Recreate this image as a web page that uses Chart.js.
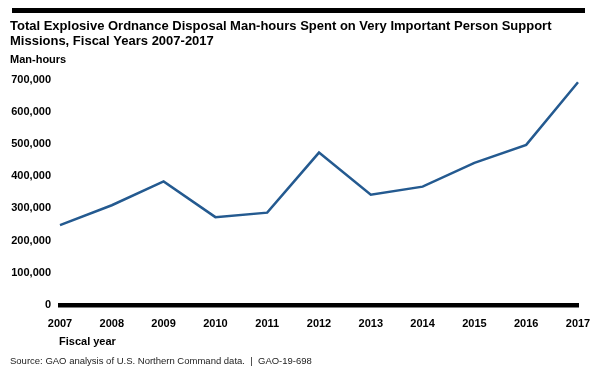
<!DOCTYPE html>
<html>
<head>
<meta charset="utf-8">
<script src="https://cdn.jsdelivr.net/npm/chart.js@4"></script>
<style>
  body { margin: 0; background: #fff; }
</style>
</head>
<body>
<canvas id="c" width="600" height="371"></canvas>
<script>
const years = ['2007','2008','2009','2010','2011','2012','2013','2014','2015','2016','2017']
const manHours = [248000, 310000, 384000, 273000, 287000, 474000, 343000, 368000, 442000, 498000, 693000]
const titleLines = ['Total Explosive Ordnance Disposal Man-hours Spent on Very Important Person Support', 'Missions, Fiscal Years 2007-2017']
const yTitle = 'Man-hours'
const xTitle = 'Fiscal year'
const source = 'Source: GAO analysis of U.S. Northern Command data.  |  GAO-19-698'

const font = 'Liberation Sans, Arial, sans-serif'

// texts and the top rule, drawn on the canvas
const extras = {
  id: 'extras',
  afterDraw(chart) {
    const ctx = chart.ctx
    ctx.save()
    ctx.fillStyle = '#000'
    ctx.fillRect(12, 8, 573, 5)
    ctx.textBaseline = 'middle'
    ctx.textAlign = 'left'
    ctx.font = 'bold 13px ' + font
    ctx.fillText(titleLines[0], 10, 26)
    ctx.fillText(titleLines[1], 10, 41)
    ctx.font = 'bold 11px ' + font
    ctx.fillText(yTitle, 10, 60)
    ctx.fillText(xTitle, 59, 342)
    ctx.font = '9.5px ' + font
    ctx.fillStyle = '#222'
    ctx.fillText(source, 10, 361)
    ctx.restore()
  }
}

new Chart(document.getElementById('c'), {
  type: 'line',
  data: {
    labels: years,
    datasets: [{
      data: manHours,
      borderColor: '#245a90',
      borderWidth: 2.5,
      pointRadius: 0,
      tension: 0
    }]
  },
  options: {
    responsive: false,
    animation: false,
    layout: { padding: { top: 80, right: 22, bottom: 35, left: 10 } },
    scales: {
      x: {
        offset: false,
        grid: { display: false },
        border: { display: true, color: '#000', width: 4.5 },
        ticks: { color: '#000', font: { family: font, size: 11, weight: 'bold' }, padding: 5, maxRotation: 0 }
      },
      y: {
        min: 0,
        max: 700000,
        grid: { display: false },
        border: { display: false },
        afterFit: s => { s.width = 50 },
        ticks: {
          stepSize: 100000,
          color: '#000',
          padding: 1,
          font: { family: font, size: 11, weight: 'bold' },
          callback: v => v.toLocaleString('en-US')
        }
      }
    },
    plugins: {
      legend: { display: false },
      tooltip: { enabled: false }
    }
  },
  plugins: [extras]
})
</script>
</body>
</html>
